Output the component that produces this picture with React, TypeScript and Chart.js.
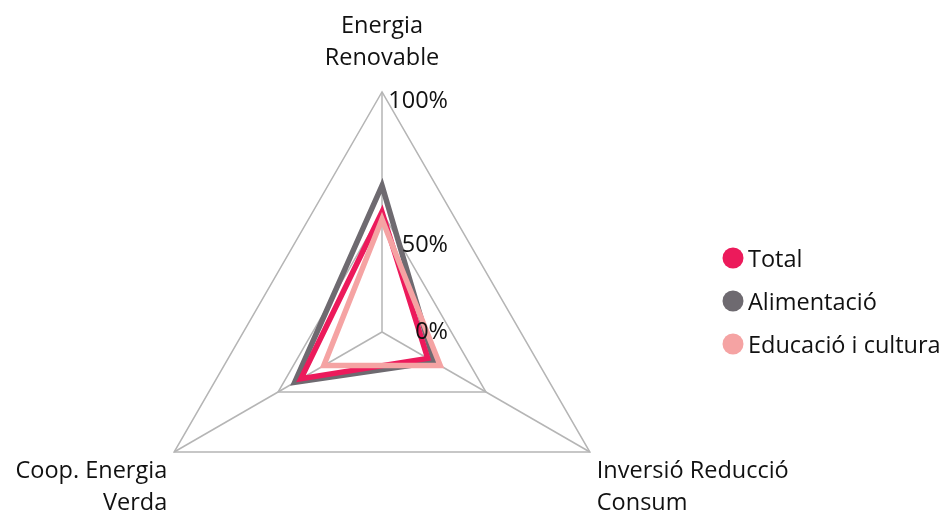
import React, { useEffect, useRef } from 'react';
import { Chart, registerables } from 'chart.js';

Chart.register(...registerables);

const axisLabels: string[][] = [
  ['Energia', 'Renovable'],
  ['Inversió Reducció', 'Consum'],
  ['Coop. Energia', 'Verda'],
];
const seriesNames = ['Total', 'Alimentació', 'Educació i cultura'];
const totalValues = [50, 22, 39];
const alimentacioValues = [61, 25, 42];
const educacioValues = [47, 28, 28];
const tickValues = [0, 50, 100];
const seriesColors = ['#ec1a5b', '#6e6a70', '#f5a3a3'];
const drawOrder = [1, 2, 0];

const FONT = '"Open Sans", "Noto Sans", sans-serif';

// canvas is larger than the visible frame so the radar can sit where it does
const CANVAS_W = 1140;
const CANVAS_H = 642;
const OFFSET_LEFT = -188;
const OFFSET_TOP = -29;

const tickLabelPlugin = {
  id: 'tickLabels',
  afterDatasetsDraw(chart: any) {
    const s = chart.scales.r;
    const ctx = chart.ctx;
    const r = s.drawingArea;
    ctx.save();
    ctx.font = `23.5px ${FONT}`;
    ctx.fillStyle = '#111111';
    ctx.textAlign = 'right';
    ctx.textBaseline = 'middle';
    tickValues.forEach((v) => {
      const t = s.getDistanceFromCenterForValue(v) / r;
      const y = s.yCenter - r * (0.479 * t + 0.483 * t * t);
      ctx.fillText(`${v}%`, s.xCenter + 66, y);
    });
    ctx.restore();
  },
};

const legendPlugin = {
  id: 'sideLegend',
  afterDraw(chart: any) {
    const s = chart.scales.r;
    const ctx = chart.ctx;
    const x0 = s.xCenter + 351;
    const y0 = s.yCenter - 74;
    const step = 43;
    ctx.save();
    ctx.font = `23.5px ${FONT}`;
    ctx.textAlign = 'left';
    ctx.textBaseline = 'middle';
    chart.data.datasets.forEach((ds: any, i: number) => {
      const y = y0 + i * step;
      ctx.fillStyle = ds.borderColor;
      ctx.beginPath();
      ctx.arc(x0, y, 10.5, 0, Math.PI * 2);
      ctx.fill();
      ctx.fillStyle = '#111111';
      ctx.fillText(ds.label, x0 + 15, y + 2);
    });
    ctx.restore();
  },
};

export default function App() {
  const canvasRef = useRef<HTMLCanvasElement | null>(null);

  useEffect(() => {
    document.body.style.margin = '0';
    const canvas = canvasRef.current;
    if (!canvas) return;
    const valueSets = [totalValues, alimentacioValues, educacioValues];
    const chart = new Chart(canvas, {
      type: 'radar',
      data: {
        labels: axisLabels,
        datasets: seriesNames.map((name, i) => ({
          label: name,
          data: valueSets[i],
          borderColor: seriesColors[i],
          backgroundColor: 'rgba(0,0,0,0)',
          borderWidth: 5.5,
          fill: false,
          pointRadius: 0,
          pointHoverRadius: 0,
          order: drawOrder[i],
        })),
      },
      options: {
        animation: false,
        responsive: true,
        maintainAspectRatio: false,
        layout: { padding: 0 },
        plugins: {
          legend: { display: false },
          tooltip: { enabled: false },
        },
        elements: { line: { tension: 0, borderJoinStyle: 'miter' } },
        scales: {
          r: {
            min: 0,
            max: 100,
            ticks: { display: false, stepSize: 50 },
            grid: { color: '#b5b5b5', lineWidth: 1.5 },
            angleLines: { color: '#b5b5b5', lineWidth: 1.5 },
            pointLabels: {
              color: '#111111',
              padding: (ctx: any) => (ctx.index === 0 ? 18 : 8),
              font: { family: FONT, size: 23.5, lineHeight: 1.34 },
            },
          },
        },
      },
      plugins: [tickLabelPlugin, legendPlugin],
    });
    return () => chart.destroy();
  }, []);

  return (
    <div style={{ width: 950, height: 511, position: 'relative', overflow: 'hidden' }}>
      <div
        style={{
          position: 'absolute',
          left: OFFSET_LEFT,
          top: OFFSET_TOP,
          width: CANVAS_W,
          height: CANVAS_H,
        }}
      >
        <canvas ref={canvasRef} />
      </div>
    </div>
  );
}
